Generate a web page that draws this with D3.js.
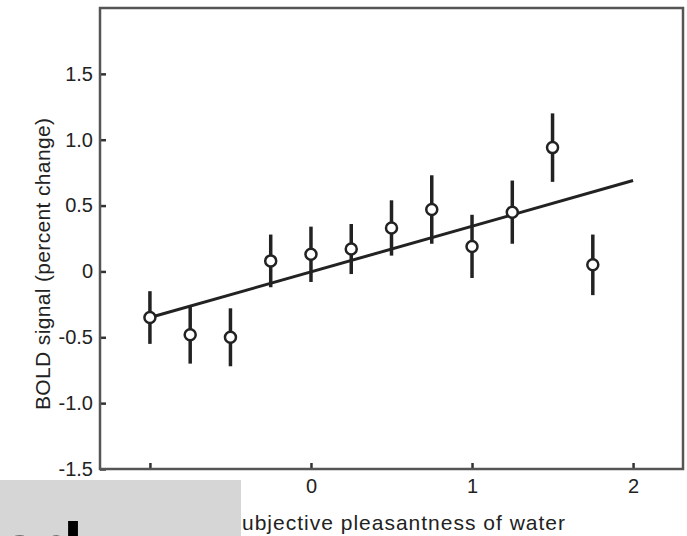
<!DOCTYPE html>
<html>
<head>
<meta charset="utf-8">
<script src="https://cdn.jsdelivr.net/npm/d3@7"></script>
<style>
  body { margin: 0; background: #fff; }
  text { font-family: "Liberation Sans", Arial, sans-serif; }
</style>
</head>
<body>
<div></div>
<script>
// data
var pleasantness = [-1, -0.75, -0.5, -0.25, 0, 0.25, 0.5, 0.75, 1, 1.25, 1.5, 1.75];
var bold = [-0.35, -0.48, -0.5, 0.08, 0.13, 0.17, 0.33, 0.47, 0.19, 0.45, 0.94, 0.05];
var sem = [0.2, 0.22, 0.22, 0.2, 0.21, 0.19, 0.21, 0.26, 0.24, 0.24, 0.26, 0.23];
var fitX = [-1, 2];
var fitY = [-0.35, 0.69];
var xTicks = [-1, 0, 1, 2];
var xTickLabels = ['', '0', '1', '2'];
var yTicks = [-1.5, -1, -0.5, 0, 0.5, 1, 1.5];
var yTickLabels = ['-1.5', '-1.0', '-0.5', '0', '0.5', '1.0', '1.5'];

var width = 687;
var height = 536;
var plotLeft = 100, plotRight = 683, plotTop = 8, plotBottom = 469;

var svg = d3.select('div')
    .append('svg')
    .attr('width', width)
    .attr('height', height);

var xscale = d3.scaleLinear()
    .domain([-1.31, 2.31])
    .range([plotLeft, plotRight]);

var yscale = d3.scaleLinear()
    .domain([-1.5, 2])
    .range([plotBottom, plotTop]);

// ejes con ticks hacia dentro
var xaxis = d3.axisBottom(xscale)
    .tickValues(xTicks)
    .tickFormat(function(d, i) { return xTickLabels[i]; })
    .tickSizeInner(-6)
    .tickSizeOuter(0)
    .tickPadding(10);

var yaxis = d3.axisLeft(yscale)
    .tickValues(yTicks)
    .tickFormat(function(d, i) { return yTickLabels[i]; })
    .tickSizeInner(-6)
    .tickSizeOuter(0)
    .tickPadding(7);

var gx = svg.append('g')
    .attr('transform', 'translate(0,' + plotBottom + ')')
    .call(xaxis);

var gy = svg.append('g')
    .attr('transform', 'translate(' + plotLeft + ',0)')
    .call(yaxis);

[gx, gy].forEach(function(g) {
    g.select('.domain').remove();
    g.selectAll('.tick line').attr('stroke', '#333').attr('stroke-width', 2.5);
    g.selectAll('.tick text')
        .attr('fill', '#222')
        .style('font-size', '20px');
});

// marco
svg.append('rect')
    .attr('x', plotLeft)
    .attr('y', plotTop)
    .attr('width', plotRight - plotLeft)
    .attr('height', plotBottom - plotTop)
    .attr('fill', 'none')
    .attr('stroke', '#555')
    .attr('stroke-width', 2.5);

// recta de regresion
svg.append('line')
    .attr('x1', xscale(fitX[0]))
    .attr('y1', yscale(fitY[0]))
    .attr('x2', xscale(fitX[1]))
    .attr('y2', yscale(fitY[1]))
    .attr('stroke', '#222')
    .attr('stroke-width', 3);

// barras de error
svg.selectAll('.err')
    .data(pleasantness)
    .enter()
    .append('line')
    .attr('class', 'err')
    .attr('x1', function(d) { return xscale(d); })
    .attr('x2', function(d) { return xscale(d); })
    .attr('y1', function(d, i) { return yscale(bold[i] + sem[i]); })
    .attr('y2', function(d, i) { return yscale(bold[i] - sem[i]); })
    .attr('stroke', '#222')
    .attr('stroke-width', 3.5);

// puntos
svg.selectAll('circle')
    .data(pleasantness)
    .enter()
    .append('circle')
    .attr('cx', function(d) { return xscale(d); })
    .attr('cy', function(d, i) { return yscale(bold[i]); })
    .attr('r', 5.5)
    .attr('fill', '#fff')
    .attr('stroke', '#222')
    .attr('stroke-width', 2.5);

// titulos de los ejes
svg.append('text')
    .attr('transform', 'translate(50,264) rotate(-90)')
    .attr('text-anchor', 'middle')
    .attr('fill', '#222')
    .attr('textLength', 292)
    .style('font-size', '21px')
    .text('BOLD signal (percent change)');

svg.append('text')
    .attr('x', 396)
    .attr('y', 530)
    .attr('text-anchor', 'middle')
    .attr('fill', '#222')
    .attr('textLength', 338)
    .style('font-size', '21px')
    .text('Subjective pleasantness of water');

// recuadro gris de la esquina
svg.append('rect')
    .attr('x', 0)
    .attr('y', 480)
    .attr('width', 241)
    .attr('height', height - 480)
    .attr('fill', '#d6d6d6');

svg.append('text')
    .attr('x', -1)
    .attr('y', 574)
    .attr('fill', '#000')
    .style('font-size', '72px')
    .style('font-weight', 'bold')
    .text('ed');
</script>
</body>
</html>
